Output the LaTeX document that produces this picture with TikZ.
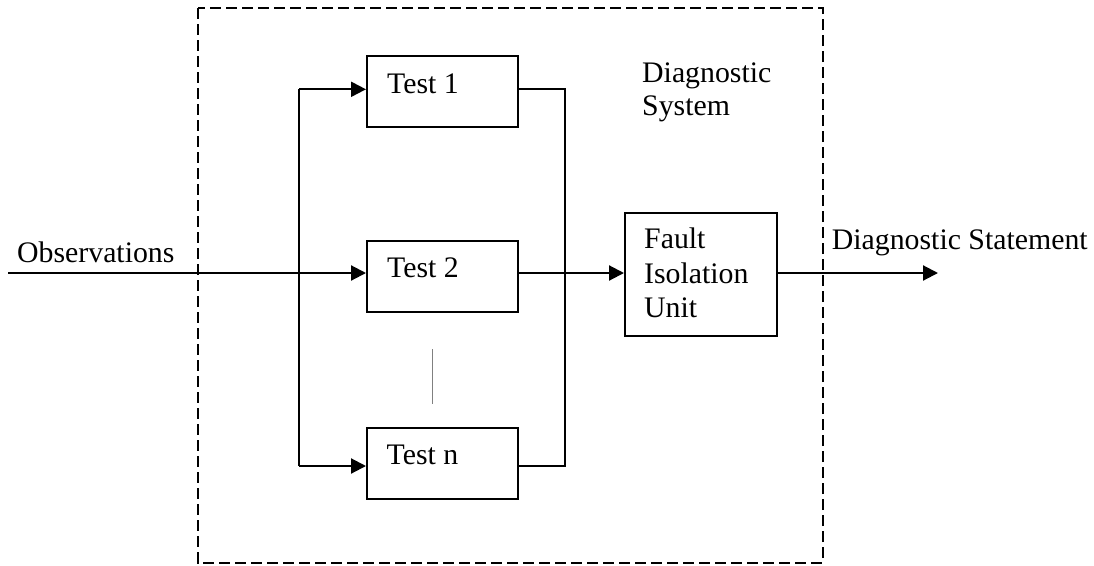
\documentclass[tikz,border=0pt]{standalone}
\usepackage{fontspec}
\setmainfont{Liberation Serif}
\usetikzlibrary{arrows.meta}
\begin{document}
\begin{tikzpicture}[x=1pt, y=-1pt,
  blockbox/.style={draw, line width=2.1pt, minimum width=151pt, inner sep=0pt},
  lbl/.style={inner sep=0pt, anchor=base west, font=\fontsize{29.8}{33}\selectfont},
  wire/.style={line width=2.1pt},
  arr/.style={wire, -{Triangle[length=15pt, width=15pt]}},
  sysframe/.style={line width=2pt, dash pattern=on 11pt off 5pt}]
\useasboundingbox (0,0) rectangle (1094,565);

% diagnostic system boundary
\draw[sysframe] (197.7,8) rectangle (822.7,562.5);

% test blocks and fault isolation unit
\node[blockbox, minimum height=71pt, anchor=north west] (t1) at (366,55) {};
\node[blockbox, minimum height=71pt, anchor=north west] (t2) at (366,240) {};
\node[blockbox, minimum height=71pt, anchor=north west] (tn) at (366,427) {};
\node[blockbox, minimum width=152pt, minimum height=123pt, anchor=north west] (fiu) at (624,212) {};

% labels
\node[lbl] (t1lbl) at (387,93) {Test 1};
\node[lbl] (t2lbl) at (387,277.7) {Test 2};
\node[lbl] (tnlbl) at (386.5,464.3) {Test n};
\node[lbl] (fiu1) at (644,248.3) {Fault};
\node[lbl] (fiu2) at (644,283.3) {Isolation};
\node[lbl] (fiu3) at (644,317.3) {Unit};
\node[lbl] (sys1) at (642,82) {Diagnostic};
\node[lbl] (sys2) at (642,115) {System};
\node[lbl] (obs) at (17,262.7) {Observations};
\node[lbl] (stmt) at (831.7,249.3) {Diagnostic Statement};

% row heights and junctions
\coordinate (rowA) at (0,89.3);
\coordinate (rowB) at (0,273);
\coordinate (rowC) at (0,466);
\coordinate (inL) at (8,273);
\coordinate (split) at (299.3,273);
\coordinate (merge) at (565,273);
\coordinate (outR) at (938,273);

% input fan-out
\draw[wire] (inL) -- (split);
\draw[line width=2.8pt] (253,273) -- (285,273);
\draw[wire] (split |- rowA) -- (split |- rowC);
\draw[arr] (split |- rowA) -- (t1.west |- rowA);
\draw[arr] (split) -- (t2.west |- rowB);
\draw[arr] (split |- rowC) -- (tn.west |- rowC);

% test outputs collected into the fault isolation unit
\draw[wire] (t1.east |- rowA) -- (merge |- rowA) -- (merge |- rowC) -- (tn.east |- rowC);
\draw[arr] (t2.east |- rowB) -- (fiu.west |- rowB);
\draw[arr] (fiu.east |- rowB) -- (outR);

% ellipsis between test 2 and test n
\draw[gray, line width=0.7pt] (432.7,349) -- (432.7,404);
\end{tikzpicture}
\end{document}
